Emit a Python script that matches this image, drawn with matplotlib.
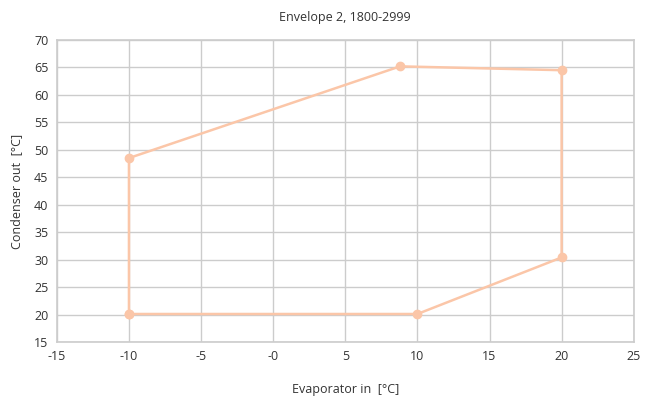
import matplotlib.pyplot as plt

# envelope corners, evaporator in / condenser out
evap = [-10, -10, 8.8, 20, 20, 10, -10]
cond = [20.1, 48.5, 65.2, 64.5, 30.4, 20.1, 20.1]

xticks = [-15, -10, -5, 0, 5, 10, 15, 20, 25]
xlabels = ["-15", "-10", "-5", "-0", "5", "10", "15", "20", "25"]
yticks = [15, 20, 25, 30, 35, 40, 45, 50, 55, 60, 65, 70]

plt.rcParams['font.family'] = ['Open Sans', 'DejaVu Sans']

fig = plt.figure(figsize=(6.46, 3.98), dpi=100)
ax = fig.add_axes([0.088, 0.1407, 0.893, 0.7588])

ax.plot(evap, cond, color="#fbc6a8", lw=1.8, marker="o", ms=6, zorder=3)

ax.set_xlim(-15, 25)
ax.set_ylim(15, 70)
ax.set_xticks(xticks)
ax.set_xticklabels(xlabels)
ax.set_yticks(yticks)
ax.tick_params(length=0, labelsize=9, colors="#333333", pad=6)
ax.grid(True, color="#cccccc", lw=1)
ax.set_axisbelow(True)
for s in ax.spines.values():
    s.set_color("#cccccc")
    s.set_linewidth(1.2)

ax.set_title("Envelope 2, 1800-2999", fontsize=9, color="#333333", pad=14)
ax.set_xlabel("Evaporator in  [°C]", fontsize=9, color="#333333", labelpad=14)
ax.set_ylabel("Condenser out  [°C]", fontsize=9, color="#333333", labelpad=8)

fig.savefig("out.png", dpi=100)
